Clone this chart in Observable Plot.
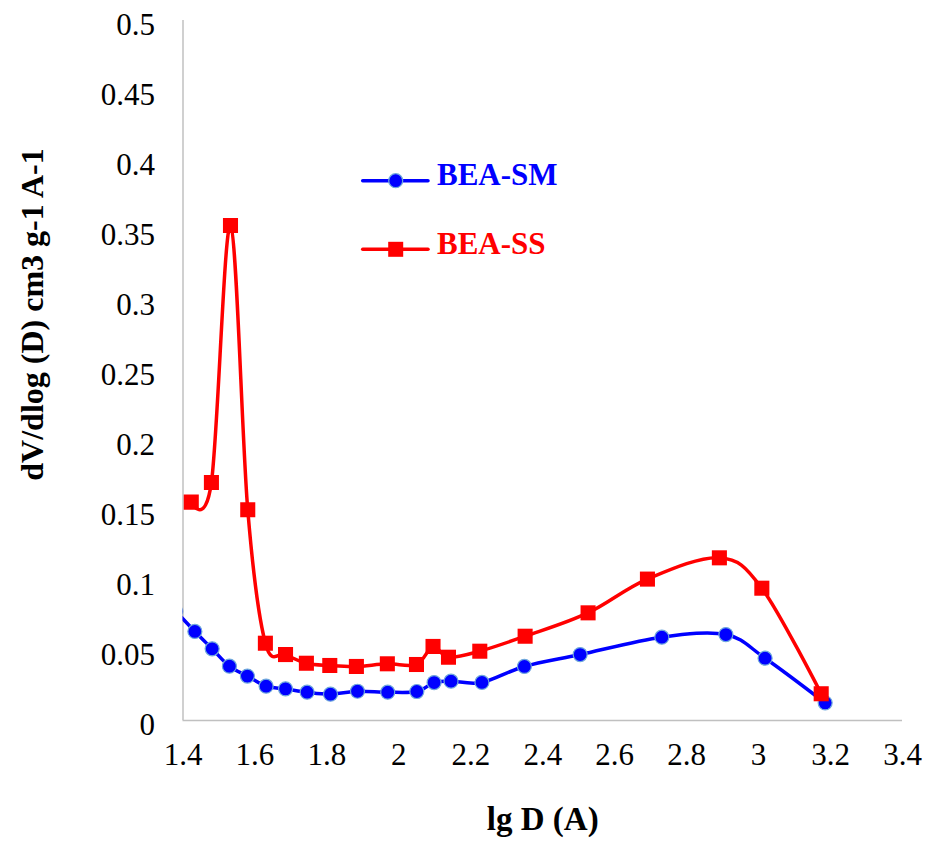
<!DOCTYPE html>
<html><head><meta charset="utf-8">
<script src="https://cdn.jsdelivr.net/npm/d3@7"></script>
<script src="https://cdn.jsdelivr.net/npm/@observablehq/plot@0.6"></script>
<style>body{margin:0;background:#fff} #chart{width:931px;height:841px}</style>
</head><body><div id="chart"></div>
<script>
// Data
const xSM = [1.38, 1.433, 1.481, 1.529, 1.579, 1.631, 1.685, 1.745, 1.810, 1.885, 1.969, 2.050, 2.098, 2.145, 2.231, 2.349, 2.504, 2.731, 2.909, 3.018, 3.185];
const ySM = [0.078, 0.0636, 0.0512, 0.0388, 0.0317, 0.0245, 0.0226, 0.0202, 0.0188, 0.0209, 0.0202, 0.0207, 0.0271, 0.0281, 0.0272, 0.0386, 0.0471, 0.0595, 0.0614, 0.0445, 0.0126];
const xSS = [1.423, 1.479, 1.532, 1.580, 1.629, 1.685, 1.743, 1.808, 1.882, 1.968, 2.049, 2.095, 2.138, 2.225, 2.351, 2.526, 2.691, 2.891, 3.009, 3.174];
const ySS = [0.156, 0.170, 0.3536, 0.1505, 0.0552, 0.0471, 0.0409, 0.0393, 0.0386, 0.0405, 0.0400, 0.0529, 0.0452, 0.0495, 0.0602, 0.0769, 0.1010, 0.1162, 0.0945, 0.0191];
const xTicks = [1.4, 1.6, 1.8, 2.0, 2.2, 2.4, 2.6, 2.8, 3.0, 3.2, 3.4];
const yTicks = [0, 0.05, 0.1, 0.15, 0.2, 0.25, 0.3, 0.35, 0.4, 0.45, 0.5];
const seriesNames = ["BEA-SM", "BEA-SS"];
const xTitle = "lg D (A)";
const yTitle = "dV/dlog (D) cm3 g-1 A-1";

const sm = xSM.map((x, i) => ({x, y: ySM[i]}));
const ss = xSS.map((x, i) => ({x, y: ySS[i]}));

const BLUE = "#0000ff", RED = "#ff0000", AXIS = "#c0c0c0";
const FONT = "'Liberation Serif','Times New Roman',Times,serif";

const chart = Plot.plot({
  width: 931, height: 841,
  marginLeft: 182.5, marginRight: 29, marginTop: 20, marginBottom: 121,
  x: {domain: [1.4, 3.4]},
  y: {domain: [0, 0.5]},
  style: {fontFamily: FONT, fontSize: "31px", background: "#fff", color: "#000"},
  marks: [
    Plot.axisX({ticks: xTicks, tickFormat: d => String(+d.toFixed(1)), tickSize: 0, tickPadding: 22, label: null, fontSize: 31}),
    Plot.axisY({ticks: yTicks, tickFormat: d => String(+d.toFixed(2)), tickSize: 0, tickPadding: 28, dy: 5, label: null, fontSize: 31}),
    Plot.ruleX([1.4], {stroke: AXIS, strokeWidth: 1.5}),
    Plot.ruleY([0], {stroke: AXIS, strokeWidth: 1.5}),
    Plot.line(sm, {x: "x", y: "y", curve: "cardinal", tension: 0, stroke: BLUE, strokeWidth: 3.5, clip: true}),
    Plot.dot(sm, {x: "x", y: "y", r: 7, fill: BLUE, stroke: "#6fa8dc", strokeWidth: 1.2, clip: true}),
    Plot.line(ss, {x: "x", y: "y", curve: "cardinal", tension: 0, stroke: RED, strokeWidth: 3.5, clip: true}),
    Plot.dot(ss, {x: "x", y: "y", r: 8.5, symbol: "square", fill: RED, stroke: "none", clip: true}),
    Plot.text([xTitle], {frameAnchor: "bottom", dy: 109, lineAnchor: "bottom", textAnchor: "middle", fontWeight: "bold", fontSize: 33}),
    Plot.text([yTitle], {frameAnchor: "left", dx: -150.5, dy: -56, rotate: -90, lineAnchor: "middle", textAnchor: "middle", fontWeight: "bold", fontSize: 32})
  ]
});

// Legend inside the plot area
const svg = d3.select(chart);
const leg = svg.append("g");
const legY = [180.7, 249.3];
const legColors = [BLUE, RED];
seriesNames.forEach((name, i) => {
  const g = leg.append("g").attr("transform", `translate(0,${legY[i]})`);
  g.append("line").attr("x1", 362.7).attr("x2", 428).attr("stroke", legColors[i]).attr("stroke-width", 3.5).attr("stroke-linecap", "round");
  if (i === 0) g.append("circle").attr("cx", 395.7).attr("r", 7).attr("fill", BLUE).attr("stroke", "#6fa8dc").attr("stroke-width", 1.2);
  else g.append("rect").attr("x", 395.7 - 7.5).attr("y", -7.5).attr("width", 15).attr("height", 15).attr("fill", RED);
  g.append("text").attr("x", 437).attr("y", 4.5).attr("text-anchor", "start").attr("font-family", FONT).attr("font-size", 31).attr("font-weight", "bold").attr("fill", legColors[i]).text(name);
});

document.getElementById("chart").appendChild(chart);
</script></body></html>
